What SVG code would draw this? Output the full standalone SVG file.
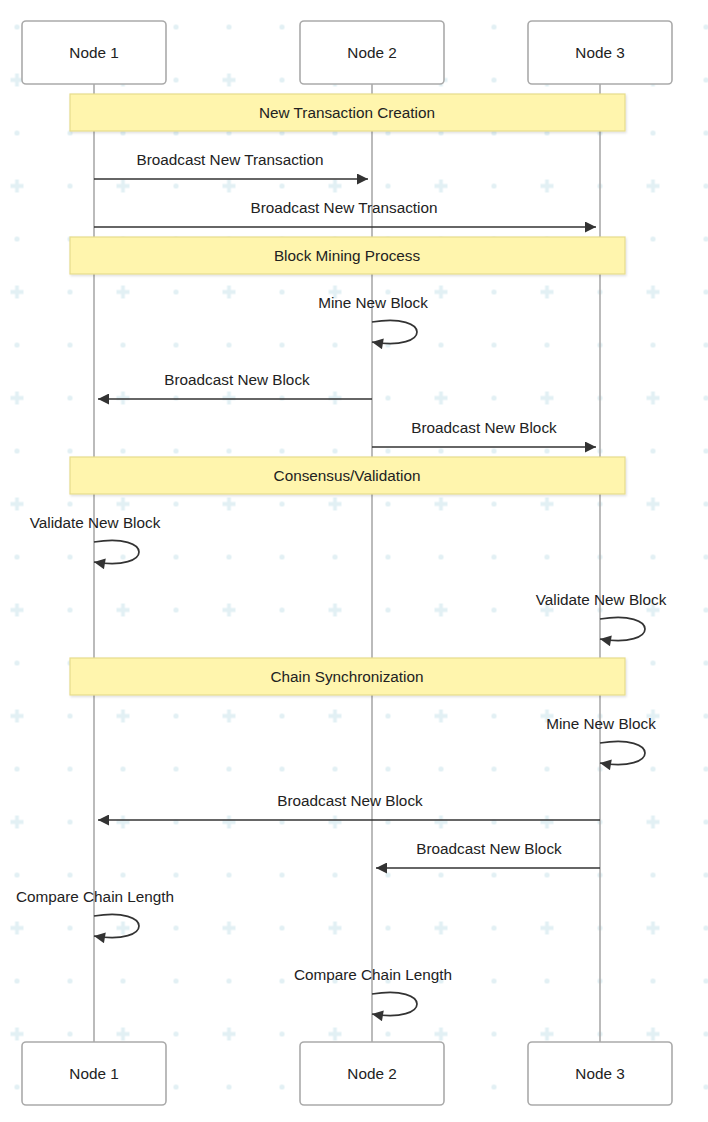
<svg xmlns="http://www.w3.org/2000/svg" width="708" height="1122" viewBox="0 0 708 1122">
<defs>
<pattern id="bg" x="-9.5" y="0.5" width="106" height="106" patternUnits="userSpaceOnUse">
<circle cx="26.5" cy="26.5" r="2.6" fill="#e2f0f4"/>
<circle cx="79.5" cy="26.5" r="2.6" fill="#e2f0f4"/>
<circle cx="79.5" cy="79.5" r="2.6" fill="#e2f0f4"/>
<path d="M20,79.5 H33 M26.5,73 V86" stroke="#e2f0f4" stroke-width="3.8"/>
</pattern>
<marker id="ah" viewBox="0 0 10 10" refX="10" refY="5" markerWidth="12" markerHeight="11" markerUnits="userSpaceOnUse" orient="auto">
<path d="M0,0 L10,5 L0,10 z" fill="#333"/>
</marker>
<filter id="sh" x="-5%" y="-20%" width="110%" height="150%">
<feDropShadow dx="1" dy="1.5" stdDeviation="1" flood-color="#000" flood-opacity="0.12"/>
</filter>
</defs>
<style>
text{font-family:"Liberation Sans",Arial,Helvetica,sans-serif;font-size:15.3px;fill:#222;text-anchor:middle}
.actor rect{fill:#fff;stroke:#aaa;stroke-width:1.6}
.life{stroke:#aaa;stroke-width:1.6}
.note rect{fill:#fff5ad;stroke:#e6dc8c;stroke-width:1.2;filter:url(#sh)}
.msg{stroke:#333;stroke-width:1.7;fill:none;marker-end:url(#ah)}
</style>
<rect width="708" height="1122" fill="#fff"/>
<rect width="708" height="1122" fill="url(#bg)"/>
<g id="lifelines">
<line class="life" x1="94" y1="84" x2="94" y2="1042"/>
<line class="life" x1="372" y1="84" x2="372" y2="1042"/>
<line class="life" x1="600" y1="84" x2="600" y2="1042"/>
</g>
<g id="note1" class="note"><rect x="70" y="94" width="555" height="37"/><text x="347" y="118">New Transaction Creation</text></g>
<g id="note2" class="note"><rect x="70" y="237" width="555" height="37"/><text x="347" y="261">Block Mining Process</text></g>
<g id="note3" class="note"><rect x="70" y="457" width="555" height="37"/><text x="347" y="481">Consensus/Validation</text></g>
<g id="note4" class="note"><rect x="70" y="658" width="555" height="37"/><text x="347" y="682">Chain Synchronization</text></g>
<g id="connectors">
<line class="msg" x1="94" y1="179" x2="368" y2="179"/>
<text x="230" y="165">Broadcast New Transaction</text>
<line class="msg" x1="94" y1="227" x2="596" y2="227"/>
<text x="344" y="213">Broadcast New Transaction</text>
<path class="msg" d="M372,322 C432,312 432,352 372,342"/>
<text x="373" y="308">Mine New Block</text>
<line class="msg" x1="372" y1="399" x2="98" y2="399"/>
<text x="237" y="385">Broadcast New Block</text>
<line class="msg" x1="372" y1="447" x2="596" y2="447"/>
<text x="484" y="433">Broadcast New Block</text>
<path class="msg" d="M94,542 C154,532 154,572 94,562"/>
<text x="95" y="528">Validate New Block</text>
<path class="msg" d="M600,619 C660,609 660,649 600,639"/>
<text x="601" y="605">Validate New Block</text>
<path class="msg" d="M600,743 C660,733 660,773 600,763"/>
<text x="601" y="729">Mine New Block</text>
<line class="msg" x1="600" y1="820" x2="98" y2="820"/>
<text x="350" y="806">Broadcast New Block</text>
<line class="msg" x1="600" y1="868" x2="376" y2="868"/>
<text x="489" y="854">Broadcast New Block</text>
<path class="msg" d="M94,916 C154,906 154,946 94,936"/>
<text x="95" y="902">Compare Chain Length</text>
<path class="msg" d="M372,994 C432,984 432,1024 372,1014"/>
<text x="373" y="980">Compare Chain Length</text>
</g>
<g id="node1-top" class="actor"><rect x="22" y="21" width="144" height="63" rx="4"/><text x="94" y="58">Node 1</text></g>
<g id="node2-top" class="actor"><rect x="300" y="21" width="144" height="63" rx="4"/><text x="372" y="58">Node 2</text></g>
<g id="node3-top" class="actor"><rect x="528" y="21" width="144" height="63" rx="4"/><text x="600" y="58">Node 3</text></g>
<g id="node1-bottom" class="actor"><rect x="22" y="1042" width="144" height="63" rx="4"/><text x="94" y="1079">Node 1</text></g>
<g id="node2-bottom" class="actor"><rect x="300" y="1042" width="144" height="63" rx="4"/><text x="372" y="1079">Node 2</text></g>
<g id="node3-bottom" class="actor"><rect x="528" y="1042" width="144" height="63" rx="4"/><text x="600" y="1079">Node 3</text></g>
</svg>
